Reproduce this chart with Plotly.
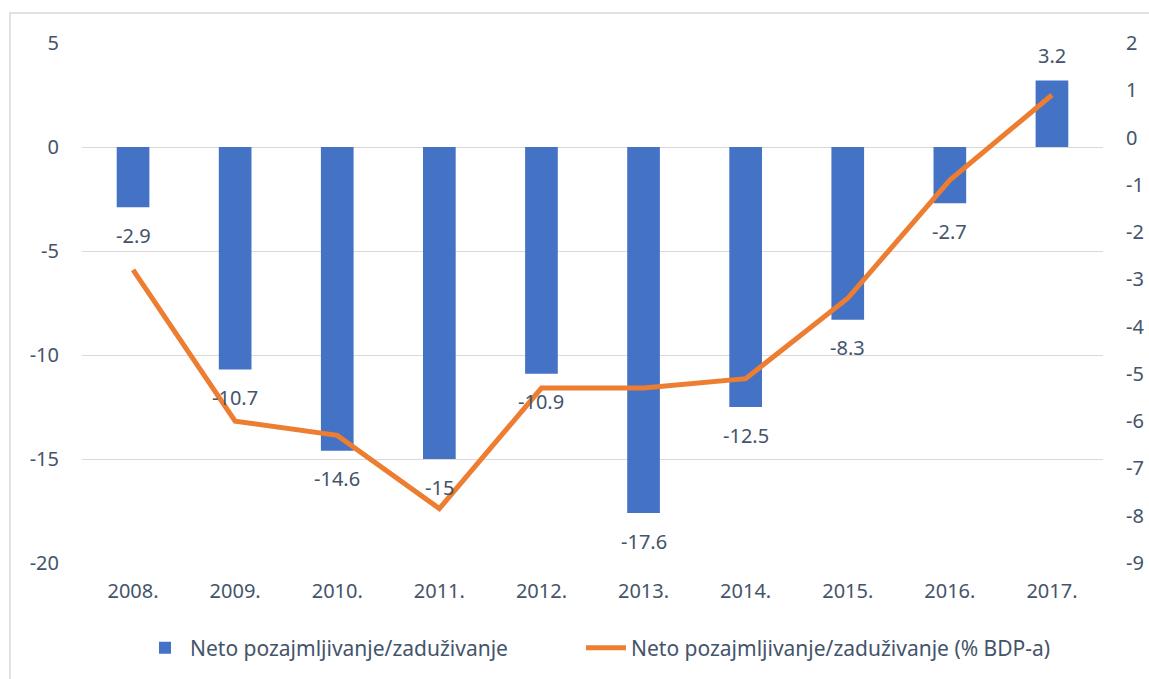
import plotly.graph_objects as go

years = ["2008.", "2009.", "2010.", "2011.", "2012.", "2013.", "2014.", "2015.", "2016.", "2017."]
net_lending = [-2.9, -10.7, -14.6, -15, -10.9, -17.6, -12.5, -8.3, -2.7, 3.2]
net_lending_pct_gdp = [-2.8, -6.0, -6.3, -7.85, -5.3, -5.3, -5.1, -3.4, -0.9, 0.9]

left_ticks = [5, 0, -5, -10, -15, -20]
right_ticks = [2, 1, 0, -1, -2, -3, -4, -5, -6, -7, -8, -9]

bar_name = "Neto pozajmljivanje/zaduživanje"
line_name = "Neto pozajmljivanje/zaduživanje (% BDP-a)"

FONT = "Noto Sans"
TXT = "#44546A"
FS = 20

fig = go.Figure()
fig.add_trace(go.Bar(
    x=years, y=net_lending, name=bar_name,
    marker=dict(color="#4472C4", line=dict(width=0)),
    width=0.32, yaxis="y", legend="legend",
))
fig.add_trace(go.Scatter(
    x=years, y=net_lending_pct_gdp, name=line_name, mode="lines",
    line=dict(color="#ED7D31", width=5), yaxis="y2", legend="legend2",
))

annotations = []
for i, v in enumerate(net_lending):
    annotations.append(dict(
        x=i, y=v, xref="x", yref="y", text=f"{v:g}", showarrow=False,
        yshift=25 if v >= 0 else -28,
        font=dict(family=FONT, size=FS, color=TXT),
    ))

W, H = 1149, 679
L, R, T, B = 82, 46, 43, 116
pw, ph = W - L - R, H - T - B

def px_x(p):
    return (p - L) / pw

leg_y = (T + ph - 648) / ph
leg_common = dict(orientation="h", yanchor="middle", y=leg_y, xanchor="left",
                  font=dict(family=FONT, size=21, color=TXT), itemwidth=40,
                  bgcolor="rgba(0,0,0,0)")

fig.update_layout(
    width=W, height=H,
    margin=dict(l=L, r=R, t=T, b=B, autoexpand=False),
    paper_bgcolor="white", plot_bgcolor="white",
    font=dict(family=FONT, size=FS, color=TXT),
    showlegend=True,
    legend=dict(x=px_x(140), **leg_common),
    legend2=dict(x=px_x(581), **leg_common),
    xaxis=dict(type="category", range=[-0.5, 9.5], showgrid=False, showline=False, ticks="",
               automargin=False,
               tickfont=dict(size=FS, color=TXT), ticklabelstandoff=14),
    yaxis=dict(range=[-20, 5], tickvals=left_ticks, ticktext=[f"{t}" for t in left_ticks],
               showgrid=True, gridcolor="#D9D9D9", automargin=False,
               gridwidth=1, zeroline=False, showline=False, ticks="",
               tickfont=dict(size=FS, color=TXT), ticklabelstandoff=22),
    yaxis2=dict(range=[-9, 2], tickvals=right_ticks, ticktext=[f"{t}" for t in right_ticks],
                overlaying="y", side="right", automargin=False,
                showgrid=False, zeroline=False, showline=False, ticks="",
                tickfont=dict(size=FS, color=TXT), ticklabelstandoff=22),
    annotations=annotations,
    shapes=[dict(type="rect", xref="paper", yref="paper",
                 x0=(10 - L) / pw, x1=(W + 20 - L) / pw,
                 y0=-(H + 20 - T - ph) / ph, y1=(ph + T - 13) / ph,
                 line=dict(color="#D9D9D9", width=1.5), fillcolor="rgba(0,0,0,0)",
                 layer="below")],
)

fig.write_html("out.html", config={"displayModeBar": False},
               post_script="document.body.style.margin='0';document.body.style.overflow='hidden';")
